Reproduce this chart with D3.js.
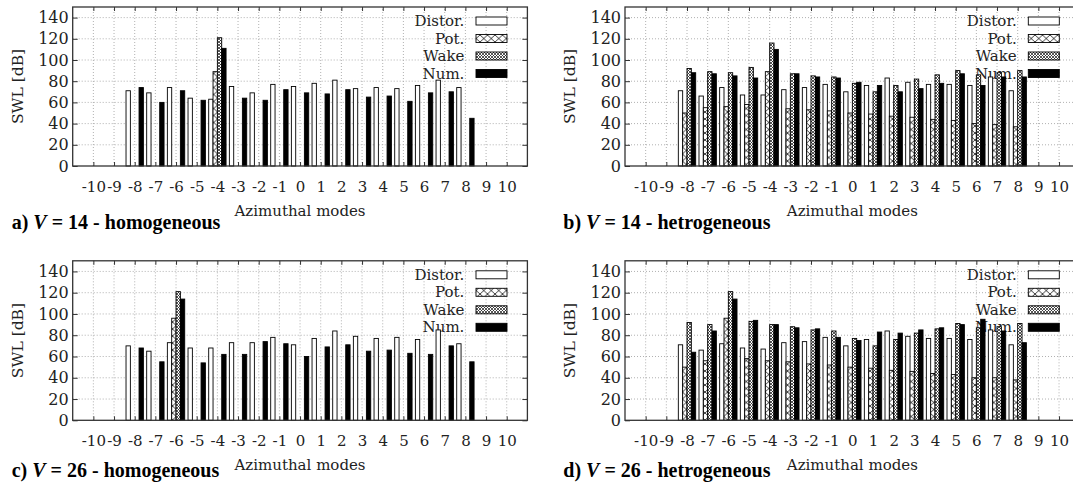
<!DOCTYPE html>
<html><head><meta charset="utf-8">
<script src="https://cdn.jsdelivr.net/npm/d3@7"></script>
<style>body{margin:0;background:#fff;} svg{display:block;}</style>
</head><body>
<svg id="chart" width="1073" height="490"></svg>
<script>
// ---------- data ----------
const modes = [-8,-7,-6,-5,-4,-3,-2,-1,0,1,2,3,4,5,6,7,8];
const xTickValues = [-10,-9,-8,-7,-6,-5,-4,-3,-2,-1,0,1,2,3,4,5,6,7,8,9,10];
const yTickValues = [0,20,40,60,80,100,120,140];
const seriesNames = ["Distor.","Pot.","Wake","Num."];

// a) V = 14 - homogeneous
const aDistor = [71,69,74,64,63,75,69,77,75,78,81,73,74,73,76,81,74];
const aPot    = [null,null,null,null,89,null,null,null,null,null,null,null,null,null,null,null,null];
const aWake   = [null,null,null,null,121,null,null,null,null,null,null,null,null,null,null,null,null];
const aNum    = [74,60,71,62,111,64,62,72,69,68,72,65,66,61,69,70,45];
// b) V = 14 - hetrogeneous
const bDistor = [71,66,74,67,67,72,74,77,70,76,83,79,77,77,76,84,71];
const bPot    = [50,55,56,58,89,54,53,52,50,49,47,46,44,43,40,39,37];
const bWake   = [92,89,88,93,116,87,85,84,78,70,76,82,86,90,86,88,90];
const bNum    = [88,87,85,83,110,87,84,83,79,76,70,73,78,87,76,84,84];
// c) V = 26 - homogeneous
const cDistor = [70,65,73,68,68,73,73,78,71,77,84,79,77,78,76,85,72];
const cPot    = [null,null,96,null,null,null,null,null,null,null,null,null,null,null,null,null,null];
const cWake   = [null,null,121,null,null,null,null,null,null,null,null,null,null,null,null,null,null];
const cNum    = [68,55,114,54,62,62,74,72,60,69,71,65,66,63,62,70,55];
// d) V = 26 - hetrogeneous
const dDistor = [71,66,72,68,67,73,74,78,70,76,84,79,77,77,76,85,71];
const dPot    = [50,56,96,58,56,55,53,52,50,49,47,46,44,43,40,40,38];
const dWake   = [92,90,121,93,90,88,85,84,77,70,76,82,86,91,87,88,91];
const dNum    = [64,84,114,94,90,87,86,78,75,83,82,85,87,90,95,84,73];

// ---------- drawing ----------
const svg = d3.select('#chart');
const defs = svg.append('defs');
const potP = defs.append('pattern').attr('id','potPat').attr('patternUnits','userSpaceOnUse')
  .attr('width',7.5).attr('height',7);
potP.append('rect').attr('width',7.5).attr('height',7).attr('fill','#fff');
potP.append('path').attr('d','M0,0L7.5,7M7.5,0L0,7').attr('stroke','#111').attr('stroke-width',0.8).attr('fill','none');
const wakeP = defs.append('pattern').attr('id','wakePat').attr('patternUnits','userSpaceOnUse')
  .attr('width',3).attr('height',3);
wakeP.append('rect').attr('width',3).attr('height',3).attr('fill','#fff');
wakeP.append('path').attr('d','M0,0L3,3M3,0L0,3').attr('stroke','#222').attr('stroke-width',0.75).attr('fill','none');

const fills = ['#fff','url(#potPat)','url(#wakePat)','#000'];

const plotW = 454.7;
const panels = [
  {left:72.7, top:7,     bottom:166,   letter:'a)', v:'14', kind:'homogeneous',  tx:11.7,  ty:229, series:[aDistor,aPot,aWake,aNum]},
  {left:625,  top:7,     bottom:166,   letter:'b)', v:'14', kind:'hetrogeneous', tx:563.3, ty:229, series:[bDistor,bPot,bWake,bNum]},
  {left:72.7, top:260.8, bottom:420.3, letter:'c)', v:'26', kind:'homogeneous',  tx:11.7,  ty:477, series:[cDistor,cPot,cWake,cNum]},
  {left:625,  top:260.8, bottom:420.3, letter:'d)', v:'26', kind:'hetrogeneous', tx:563.3, ty:477, series:[dDistor,dPot,dWake,dNum]}
];

const axisFont = 'DejaVu Serif, serif';
const txtCol = '#222';

panels.forEach(p => {
  const right = p.left + plotW;
  const x = d3.scaleLinear().domain([-11,11]).range([p.left, right]);
  const y = d3.scaleLinear().domain([0,150]).range([p.bottom, p.top]);
  const g = svg.append('g');

  // grid
  g.append('g').selectAll('line').data(yTickValues.filter(v=>v>0)).join('line')
    .attr('x1',p.left).attr('x2',right).attr('y1',d=>y(d)).attr('y2',d=>y(d))
    .attr('stroke','#a8a8a8').attr('stroke-width',0.9).attr('stroke-dasharray','1,2');
  g.append('g').selectAll('line').data(xTickValues).join('line')
    .attr('y1',p.bottom).attr('y2',p.top).attr('x1',d=>x(d)).attr('x2',d=>x(d))
    .attr('stroke','#a8a8a8').attr('stroke-width',0.9).attr('stroke-dasharray','1,2');

  // legend (drawn under bars)
  const rows = [14, 31.5, 49, 66.5];
  const lg = g.append('g');
  seriesNames.forEach((name,i) => {
    const cy = p.top + rows[i];
    lg.append('text').attr('x', right-63).attr('y', cy+5).attr('text-anchor','end')
      .attr('font-family',axisFont).attr('font-size',15).attr('fill',txtCol).text(name);
    lg.append('rect').attr('x', right-51.4).attr('y', cy-4).attr('width',31).attr('height',8)
      .attr('fill',fills[i]).attr('stroke','#000').attr('stroke-width',0.9);
  });

  // bars
  const bw = x(0.21) - x(0);
  p.series.forEach((vals, s) => {
    const pts = modes.map((m,i)=>({m, v: vals[i]})).filter(d => d.v != null);
    g.append('g').selectAll('rect').data(pts).join('rect')
      .attr('x', d => x(d.m) + (s-2)*bw)
      .attr('width', bw)
      .attr('y', d => y(d.v))
      .attr('height', d => y(0) - y(d.v))
      .attr('fill', fills[s]).attr('stroke','#000').attr('stroke-width',0.9);
  });

  // axes
  const yAx = g.append('g').attr('transform',`translate(${p.left},0)`)
    .call(d3.axisLeft(y).tickValues(yTickValues).tickSize(-5).tickPadding(4));
  yAx.select('.domain').remove();
  yAx.selectAll('text').attr('font-family',axisFont).attr('font-size',16).attr('fill',txtCol);
  yAx.selectAll('line').attr('stroke','#333');

  const yAxR = g.append('g').attr('transform',`translate(${right},0)`)
    .call(d3.axisRight(y).tickValues(yTickValues).tickSize(-5).tickFormat(''));
  yAxR.select('.domain').remove();
  yAxR.selectAll('line').attr('stroke','#333');

  const xAx = g.append('g').attr('transform',`translate(0,${p.bottom})`)
    .call(d3.axisBottom(x).tickValues(xTickValues).tickSize(-4).tickFormat(d=>String(d)));
  xAx.select('.domain').remove();
  xAx.selectAll('text').attr('y',25.5).attr('dy',null)
    .attr('font-family',axisFont).attr('font-size',15).attr('fill',txtCol);
  xAx.selectAll('line').attr('stroke','#333');

  const xAxT = g.append('g').attr('transform',`translate(0,${p.top})`)
    .call(d3.axisTop(x).tickValues(xTickValues).tickSize(-4).tickFormat(''));
  xAxT.select('.domain').remove();
  xAxT.selectAll('line').attr('stroke','#333');

  // frame
  g.append('rect').attr('x',p.left).attr('y',p.top).attr('width',plotW).attr('height',p.bottom-p.top)
    .attr('fill','none').attr('stroke','#333').attr('stroke-width',1.3);

  // axis titles
  g.append('text').attr('transform',`translate(${p.left-55},${(p.top+p.bottom)/2}) rotate(-90)`)
    .attr('text-anchor','middle').attr('dy','0.35em')
    .attr('font-family',axisFont).attr('font-size',15.5).attr('fill',txtCol).text('SWL [dB]');
  g.append('text').attr('x',(p.left+right)/2).attr('y',p.bottom+50).attr('text-anchor','middle')
    .attr('font-family',axisFont).attr('font-size',15).attr('fill',txtCol).text('Azimuthal modes');

  // panel caption
  const t = svg.append('text').attr('x',p.tx).attr('y',p.ty)
    .attr('font-family','Liberation Serif, Times New Roman, serif').attr('font-size',20)
    .attr('font-weight','bold').attr('fill','#000');
  t.append('tspan').text(p.letter + ' ');
  t.append('tspan').attr('font-style','italic').text('V');
  t.append('tspan').text(' = ' + p.v + ' - ' + p.kind);
});
</script>
</body></html>
